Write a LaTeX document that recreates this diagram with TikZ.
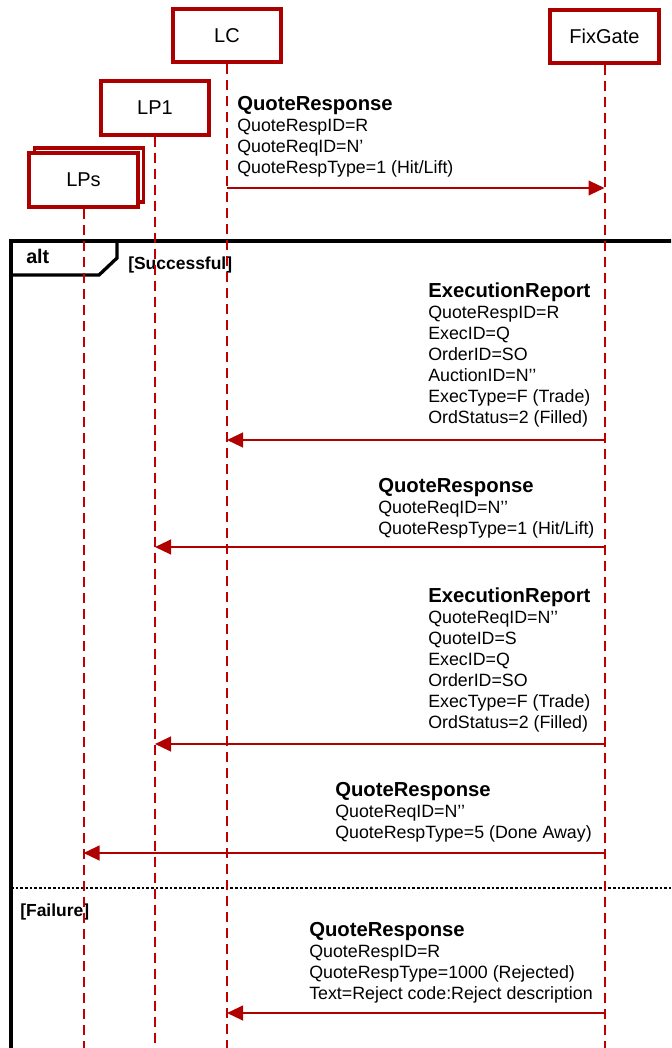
\documentclass[tikz,border=0pt]{standalone}
\usepackage{fontspec}
\setmainfont{Liberation Sans}
\usetikzlibrary{arrows.meta}
\definecolor{boxred}{RGB}{170,0,0}
\definecolor{lifered}{RGB}{192,0,0}
\definecolor{arrred}{RGB}{176,0,0}
\newcommand\msgtitle[1]{{\fontsize{15.2}{15.75}\selectfont\bfseries #1}}
\begin{document}
\begin{tikzpicture}[x=0.75pt,y=-0.75pt,
  actor/.style={draw=boxred, line width=2.6pt, fill=white, minimum width=81pt, minimum height=40pt, inner sep=0pt, font=\fontsize{15}{18}\selectfont},
  life/.style={draw=lifered, line width=1.5pt, dash pattern=on 7.5pt off 4.5pt},
  msg/.style={draw=arrred, line width=1.6pt, -{Triangle[length=12pt,width=11pt]}},
  lbl/.style={anchor=north west, inner sep=0pt, align=left, font=\fontsize{13.35}{15.75}\selectfont},
  frametxt/.style={anchor=base west, inner sep=0pt, font=\fontsize{13.1}{15}\selectfont\bfseries},
]
\useasboundingbox (0,0) rectangle (671,1048);
\clip (0,0) rectangle (671,1048);
\fill[white] (0,0) rectangle (671,1048);

% alt frame
\draw[line width=2.5pt] (11,241) rectangle (700,1080);
\draw[line width=2.5pt] (11,275) -- (99,275) -- (117,258) -- (117,241);
\draw[line width=0.9pt, dash pattern=on 2pt off 1.5pt] (11,888) -- (671,888);
\node[frametxt, font=\fontsize{14.8}{16}\selectfont\bfseries] (alt) at (26,264) {alt};
\node[frametxt] (succ) at (128,270) {[Successful]};
\node[frametxt] (fail) at (20,916) {[Failure]};

% actors
\node[actor] (LC) at (227,35.5) {LC};
\node[actor, minimum width=81.75pt] (FG) at (604.5,36.5) {FixGate};
\node[actor, minimum height=40.5pt] (LP1) at (155,108) {LP1};
\node[actor, minimum height=40.5pt, minimum width=81.75pt] (LPsback) at (89,175) {};
\node[actor, minimum height=40.5pt, minimum width=81.75pt] (LPs) at (83.5,180) {LPs};

\coordinate (bottom) at (0,1048);

% lifelines
\draw[life] (LC.south) -- (LC.south |- bottom);
\draw[life] (FG.south) -- (FG.south |- bottom);
\draw[life] (LP1.south) -- (LP1.south |- bottom);
\draw[life] (LPs.south) -- (LPs.south |- bottom);

% message labels
\node[lbl] (m1) at (237,96) {\msgtitle{QuoteResponse}\\QuoteRespID=R\\QuoteReqID=N’\\QuoteRespType=1 (Hit/Lift)};
\node[lbl] (m2) at (428,283) {\msgtitle{ExecutionReport}\\QuoteRespID=R\\ExecID=Q\\OrderID=SO\\AuctionID=N’’\\ExecType=F (Trade)\\OrdStatus=2 (Filled)};
\node[lbl] (m3) at (378,478) {\msgtitle{QuoteResponse}\\QuoteReqID=N’’\\QuoteRespType=1 (Hit/Lift)};
\node[lbl] (m4) at (428,588) {\msgtitle{ExecutionReport}\\QuoteReqID=N’’\\QuoteID=S\\ExecID=Q\\OrderID=SO\\ExecType=F (Trade)\\OrdStatus=2 (Filled)};
\node[lbl] (m5) at (335,782) {\msgtitle{QuoteResponse}\\QuoteReqID=N’’\\QuoteRespType=5 (Done Away)};
\node[lbl] (m6) at (309,922) {\msgtitle{QuoteResponse}\\QuoteRespID=R\\QuoteRespType=1000 (Rejected)\\Text=Reject code:Reject description};

% arrows
\coordinate (y1) at (0,188);
\coordinate (y2) at (0,440);
\coordinate (y3) at (0,547);
\coordinate (y4) at (0,744);
\coordinate (y5) at (0,853);
\coordinate (y6) at (0,1013);
\draw[msg] (LC.south |- y1) -- (FG.south |- y1);
\draw[msg] (FG.south |- y2) -- (LC.south |- y2);
\draw[msg] (FG.south |- y3) -- (LP1.south |- y3);
\draw[msg] (FG.south |- y4) -- (LP1.south |- y4);
\draw[msg] (FG.south |- y5) -- (LPs.south |- y5);
\draw[msg] (FG.south |- y6) -- (LC.south |- y6);
\end{tikzpicture}
\end{document}
